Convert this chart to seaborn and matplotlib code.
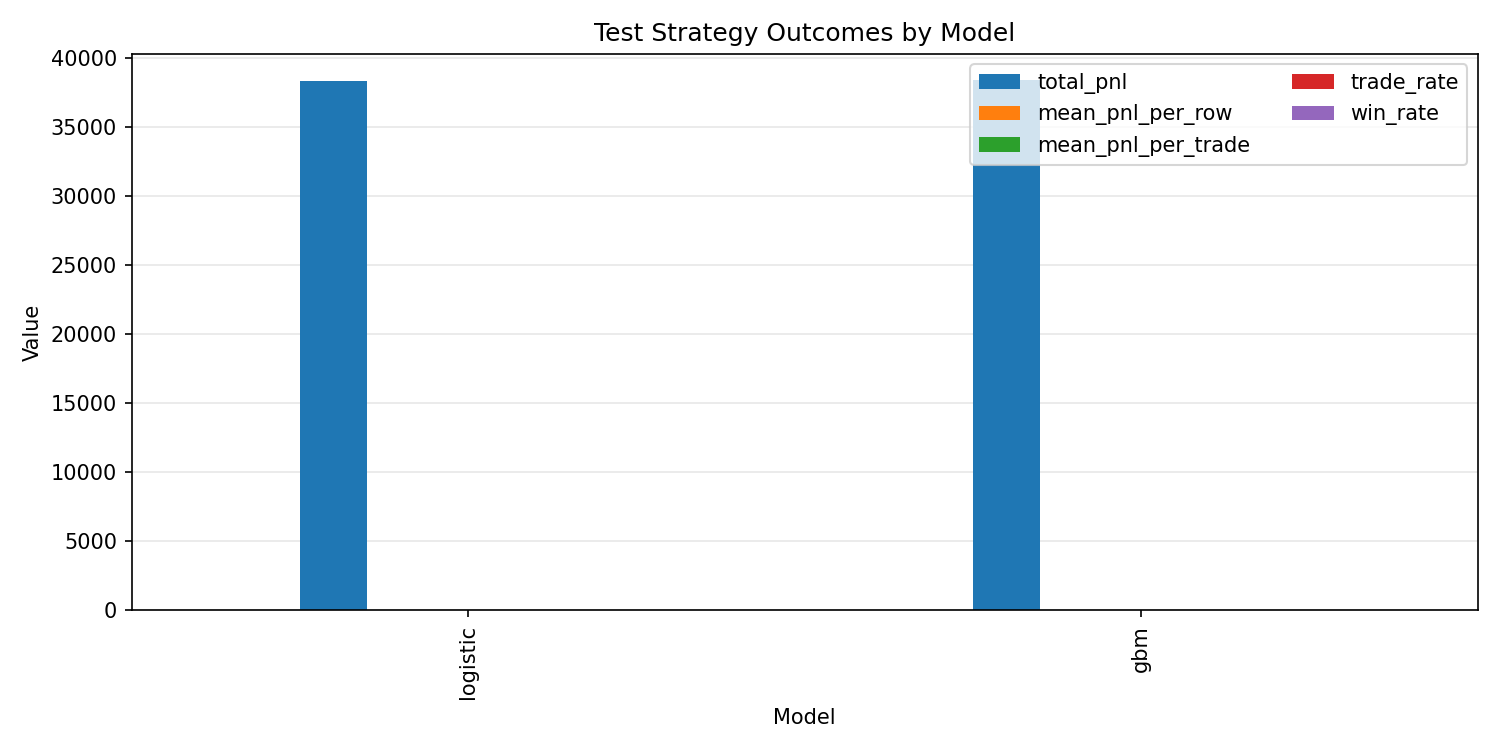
import matplotlib
matplotlib.use("Agg")
import matplotlib.pyplot as plt
import seaborn as sns
import pandas as pd

models = ["logistic", "gbm"]
metrics = ["total_pnl", "mean_pnl_per_row", "mean_pnl_per_trade", "trade_rate", "win_rate"]
total_pnl = [38290.0, 38360.0]
mean_pnl_per_row = [3.8, 3.8]
mean_pnl_per_trade = [9.5, 9.4]
trade_rate = [0.40, 0.41]
win_rate = [0.52, 0.52]

rows = []
for i, m in enumerate(models):
    for name, vals in zip(metrics, [total_pnl, mean_pnl_per_row, mean_pnl_per_trade, trade_rate, win_rate]):
        rows.append({"Model": m, "metric": name, "Value": vals[i]})
df = pd.DataFrame(rows)

palette = ["#1f77b4", "#ff7f0e", "#2ca02c", "#d62728", "#9467bd"]

fig, ax = plt.subplots(figsize=(10, 5), dpi=150)
sns.barplot(data=df, x="Model", y="Value", hue="metric", hue_order=metrics,
            order=models, palette=palette, width=0.5, saturation=1,
            errorbar=None, ax=ax, zorder=2)
ax.set_xlim(-0.5, 1.5)
ax.grid(axis="y", alpha=0.3, zorder=0)
ax.set_axisbelow(True)
ax.set_title("Test Strategy Outcomes by Model")
ax.set_xlabel("Model")
ax.set_ylabel("Value")
plt.setp(ax.get_xticklabels(), rotation=90)
ax.legend(ncol=2, loc="upper right", title=None)
fig.tight_layout()
fig.savefig("out.png", dpi=150)
